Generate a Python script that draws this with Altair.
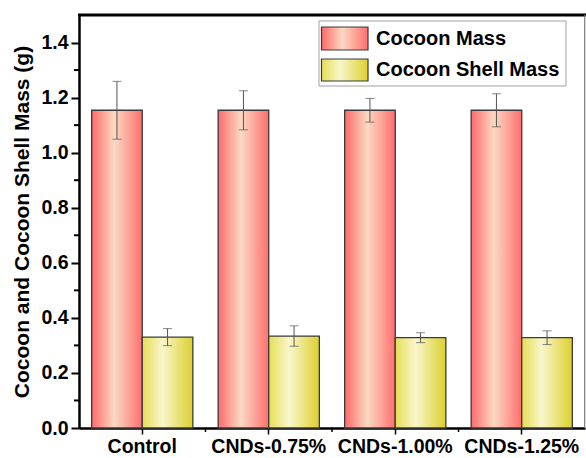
import altair as alt
import pandas as pd

# Mean masses (g) and standard deviations for each treatment group
groups = ["Control", "CNDs-0.75%", "CNDs-1.00%", "CNDs-1.25%"]
series = ["Cocoon Mass", "Cocoon Shell Mass"]
cocoon_mass = [1.154, 1.154, 1.154, 1.154]
cocoon_err = [0.105, 0.071, 0.043, 0.060]
shell_mass = [0.330, 0.334, 0.328, 0.328]
shell_err = [0.031, 0.037, 0.018, 0.025]
major_ticks = [0.0, 0.2, 0.4, 0.6, 0.8, 1.0, 1.2, 1.4]
minor_ticks = [0.1, 0.3, 0.5, 0.7, 0.9, 1.1, 1.3]

rows = []
for i, g in enumerate(groups):
    rows.append({"group": g, "series": series[0], "mean": cocoon_mass[i],
                 "lo": cocoon_mass[i] - cocoon_err[i], "hi": cocoon_mass[i] + cocoon_err[i]})
    rows.append({"group": g, "series": series[1], "mean": shell_mass[i],
                 "lo": shell_mass[i] - shell_err[i], "hi": shell_mass[i] + shell_err[i]})
df = pd.DataFrame(rows)

W, H = 506, 413
FONT = "Liberation Sans"
FS = 19.5
N = len(groups)
PAD_INNER = 0.2


def grad(edge_l, mid, edge_r, mid_at=0.5):
    return alt.LinearGradient(
        gradient="linear", x1=0, x2=1, y1=0, y2=0,
        stops=[alt.GradientStop(color=edge_l, offset=0),
               alt.GradientStop(color=mid, offset=mid_at),
               alt.GradientStop(color=edge_r, offset=1)])


red_fill = grad("#FF6A6A", "#FAD9C2", "#FF6E6E", 0.45)
yellow_fill = grad("#E6DE55", "#F9F6CC", "#DCD02E", 0.4)

x_scale = alt.Scale(domain=groups, paddingInner=PAD_INNER, paddingOuter=PAD_INNER / 2)
y_scale = alt.Scale(domain=[0, 1.5], nice=False)
off_scale = alt.Scale(domain=series, paddingInner=0, paddingOuter=0)

x_enc = alt.X("group:N", scale=x_scale, sort=groups, title=None,
              axis=alt.Axis(labelAngle=0, labelFont=FONT, labelFontWeight="bold",
                            labelFontSize=FS, labelColor="black", labelPadding=3,
                            tickSize=6, tickWidth=1.5, tickColor="black",
                            domainWidth=2.5, domainColor="black"))
x_plain = alt.X("group:N", sort=groups)
off_enc = alt.XOffset("series:N", scale=off_scale, sort=series)
y_enc = alt.Y("mean:Q", scale=y_scale,
              title="Cocoon and Cocoon Shell Mass (g)",
              axis=alt.Axis(values=major_ticks, format=".1f", grid=False,
                            labelFont=FONT, labelFontWeight="bold", labelFontSize=FS,
                            labelColor="black", labelPadding=3,
                            tickSize=8, tickWidth=2, tickColor="black",
                            domainWidth=2.5, domainColor="black",
                            titleFont=FONT, titleFontWeight="bold", titleFontSize=21,
                            titleColor="black", titlePadding=8))

base = alt.Chart(df)

bars_red = base.transform_filter(alt.datum.series == series[0]).mark_bar(
    fill=red_fill, stroke="#3a3a3a", strokeWidth=1.3
).encode(x=x_enc, xOffset=off_enc, y=y_enc)

bars_yel = base.transform_filter(alt.datum.series == series[1]).mark_bar(
    fill=yellow_fill, stroke="#3a3a3a", strokeWidth=1.3
).encode(x=x_plain, xOffset=off_enc, y="mean:Q")

err_rule = base.mark_rule(color="#555555", strokeWidth=1).encode(
    x=x_plain, xOffset=off_enc, y=alt.Y("lo:Q"), y2="hi:Q")

cap_lo = base.mark_tick(color="#555555", thickness=1, size=9, orient="horizontal").encode(
    x=x_plain, xOffset=off_enc, y="lo:Q")
cap_hi = base.mark_tick(color="#555555", thickness=1, size=9, orient="horizontal").encode(
    x=x_plain, xOffset=off_enc, y="hi:Q")

# minor ticks on the value axis
minor_y = alt.Chart(pd.DataFrame({"v": minor_ticks})).mark_rule(
    color="black", strokeWidth=2).encode(
    y=alt.Y("v:Q"), x=alt.value(-5), x2=alt.value(0))

# minor ticks on the category axis, halfway between groups (pixel positions)
step = W / N
minor_x = alt.Chart(pd.DataFrame({"k": [step * k for k in range(1, N)]})).mark_rule(
    color="black", strokeWidth=1.5).encode(
    x=alt.X("k:Q", scale=None), y=alt.value(H), y2=alt.value(H + 4))

# frame: thick top edge, thin grey right edge
top_edge = alt.Chart(pd.DataFrame({"a": [0]})).mark_rule(
    color="black", strokeWidth=3).encode(
    x=alt.value(-1), x2=alt.value(W + 2), y=alt.value(0))
right_edge = alt.Chart(pd.DataFrame({"a": [0]})).mark_rule(
    color="#888888", strokeWidth=1).encode(
    x=alt.value(W - 0.5), y=alt.value(0), y2=alt.value(H))

# legend
leg_box = alt.Chart(pd.DataFrame({"a": [0]})).mark_rect(
    fill="white", stroke="#a0a0a0", strokeWidth=1).encode(
    x=alt.value(240), x2=alt.value(487), y=alt.value(6), y2=alt.value(71))
leg_red = alt.Chart(pd.DataFrame({"a": [0]})).mark_rect(
    fill=red_fill, stroke="#3a3a3a", strokeWidth=1.2).encode(
    x=alt.value(242.5), x2=alt.value(289), y=alt.value(12), y2=alt.value(35))
leg_yel = alt.Chart(pd.DataFrame({"a": [0]})).mark_rect(
    fill=yellow_fill, stroke="#3a3a3a", strokeWidth=1.2).encode(
    x=alt.value(242.5), x2=alt.value(289), y=alt.value(44), y2=alt.value(66))
leg_text = alt.Chart(pd.DataFrame({"t": series, "yy": [24, 55]})).mark_text(
    align="left", baseline="middle", font=FONT, fontWeight="bold", fontSize=20,
    color="black").encode(
    x=alt.value(297), y=alt.Y("yy:Q", scale=None), text="t:N")

chart = alt.layer(
    bars_red, bars_yel, err_rule, cap_lo, cap_hi, minor_y, minor_x,
    top_edge, right_edge, leg_box, leg_red, leg_yel, leg_text
).properties(
    width=W, height=H,
    autosize=alt.AutoSizeParams(type="none"),
    padding={"left": 79, "top": 15, "right": 1, "bottom": 30},
).configure_view(stroke=None).configure(background="white")

chart.save("out.html", embed_options={"renderer": "svg", "actions": False})
